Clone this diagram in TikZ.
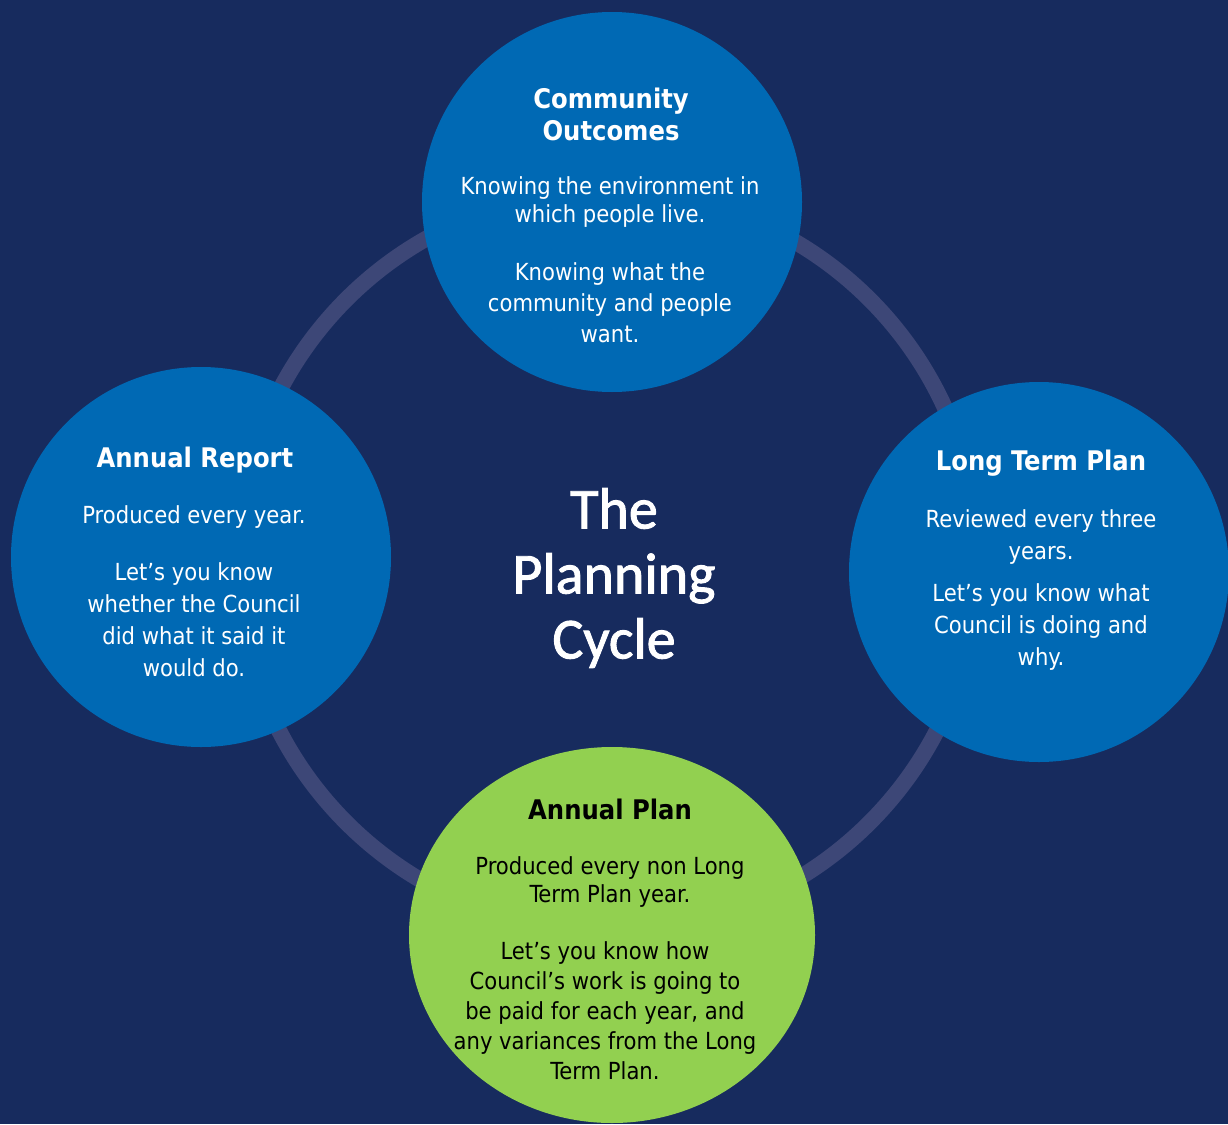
\documentclass[tikz,border=0pt]{standalone}
\usepackage{fontspec}
\setmainfont{DejaVu Sans Condensed}
\newfontfamily\titlefont[FakeBold=1.6]{Carlito}
\usetikzlibrary{shapes.geometric}
\definecolor{navy}{RGB}{23,43,94}
\definecolor{bubbleblue}{RGB}{0,105,180}
\definecolor{bubblegreen}{RGB}{146,208,80}
\definecolor{ringgrey}{RGB}{61,71,119}
\tikzset{bubble/.style={circle, fill=bubbleblue, draw=none, minimum size=380pt, inner sep=0pt},
	head/.style={align=center, inner sep=0pt, font=\bfseries\fontsize{27}{32}\selectfont},
	body/.style={align=center, inner sep=0pt, font=\fontsize{23.5}{#1}\selectfont},
	body/.default=30}

\begin{document}
\begin{tikzpicture}
  [x=1pt,y=-1pt,every node/.style={text=white}]
  \fill[navy] (0,0) rectangle (1228,1124);
  \useasboundingbox (0,0) rectangle (1228,1124);
  \draw[ringgrey, line width=16pt] (608,561) circle[radius=370pt];
  \node[bubble] (co) at (612,202) {};
  \node[bubble] (ar) at (201,557) {};
  \node[bubble] (ltp) at (1039,572) {};
  \node[ellipse, fill=bubblegreen, minimum width=406pt, minimum height=376pt, inner sep=0pt] (ap) at (612,935) {};
  \node[head] (cohead) at (611,114) {Community\\Outcomes};
  \node[body=28] (cobody1) at (610,202) {Knowing the environment in\\which people live.};
  \node[body=31] (cobody2) at (610,303) {Knowing what the\\community and people\\want.};
  \node[head] (arhead) at (195,460) {Annual Report};
  \node[body] (arbody1) at (194,517) {Produced every year.};
  \node[body=32] (arbody2) at (194,620) {Let’s you know\\whether the Council\\did what it said it\\would do.};
  \node[head] (ltphead) at (1041,463) {Long Term Plan};
  \node[body=32] (ltpbody1) at (1041,537) {Reviewed every three\\years.};
  \node[body=32] (ltpbody2) at (1041,627) {Let’s you know what\\Council is doing and\\why.};
  \node[head, text=black] (aphead) at (610,809) {Annual Plan};
  \node[body=28, text=black] (apbody1) at (610,882) {Produced every non Long\\Term Plan year.};
  \node[body, text=black] (apbody2) at (605,1011) {Let’s you know how\\Council’s work is going to\\be paid for each year, and\\any variances from the Long\\Term Plan.};
  \node[align=center, inner sep=0pt, font=\titlefont\fontsize{58}{65}\selectfont] (title) at (614,578) {The\\Planning\\Cycle};
\end{tikzpicture}
\end{document}
